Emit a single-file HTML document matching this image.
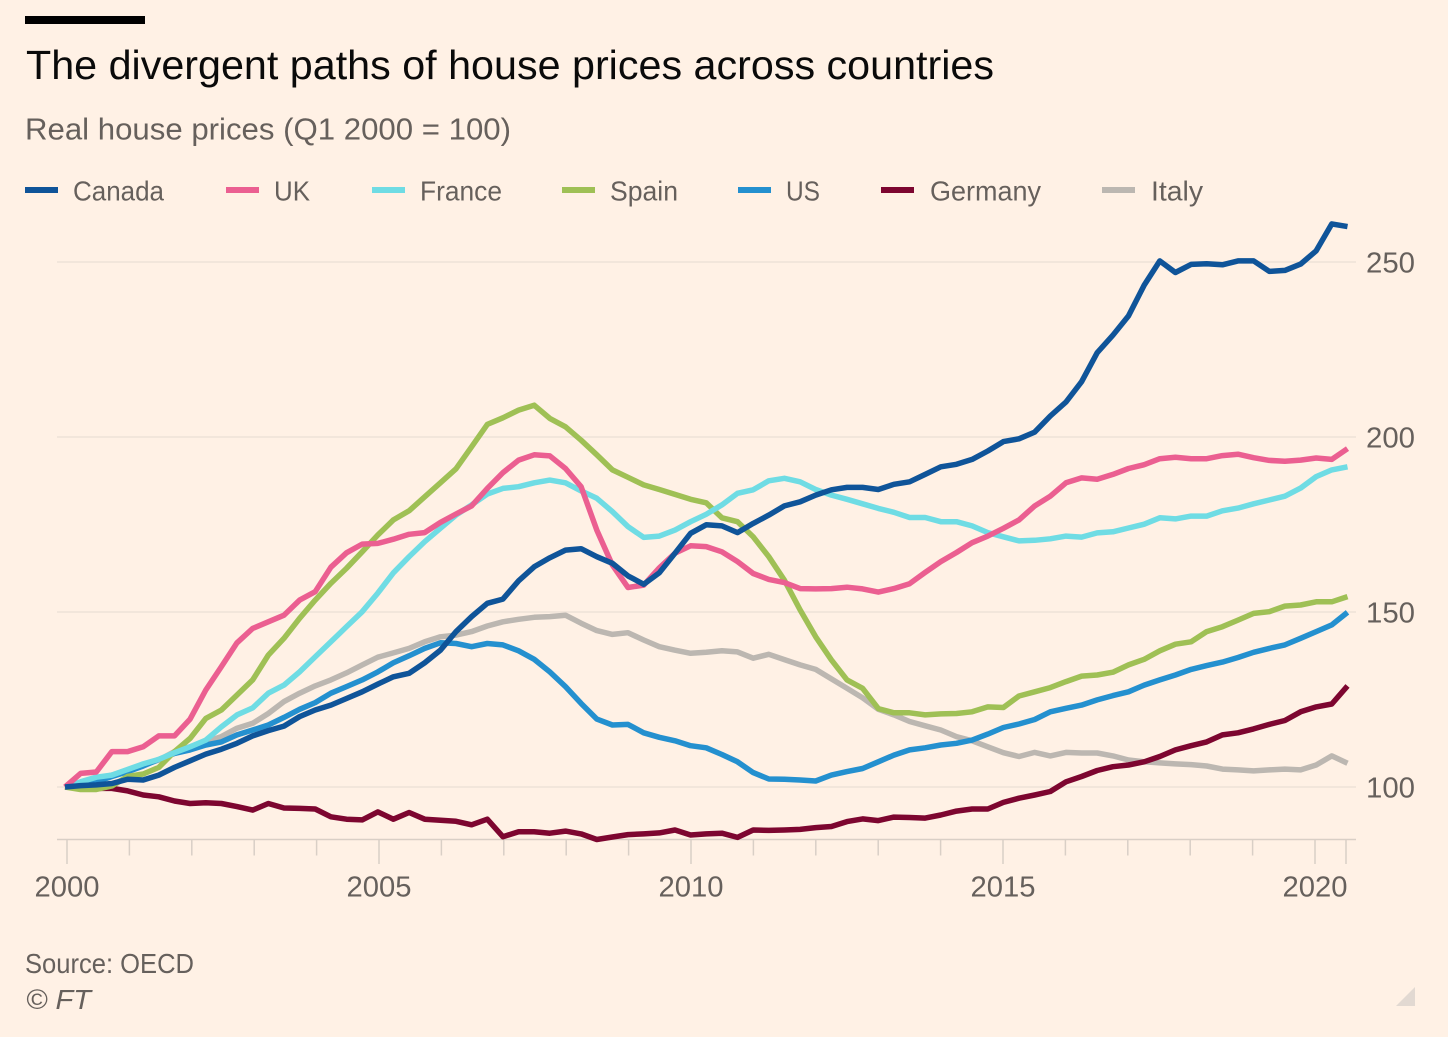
<!DOCTYPE html>
<html lang="en">
<head>
<meta charset="utf-8">
<title>The divergent paths of house prices across countries</title>
<style>
html,body{margin:0;padding:0;background:#fff1e5;}
body{width:1448px;height:1037px;overflow:hidden;}
svg{display:block;font-family:"Liberation Sans",sans-serif;}
</style>
</head>
<body>
<svg id="chart" width="1448" height="1037" viewBox="0 0 1448 1037" xmlns="http://www.w3.org/2000/svg">
  <rect x="0" y="0" width="1448" height="1037" fill="#fff1e5"/>
  <rect x="25" y="16" width="120" height="8" fill="#000"/>
  <text x="26" y="79" font-size="41" fill="#0a0a0a" textLength="968" lengthAdjust="spacingAndGlyphs">The divergent paths of house prices across countries</text>
  <text x="25" y="139.5" font-size="31" fill="#66605c" textLength="486" lengthAdjust="spacingAndGlyphs">Real house prices (Q1 2000 = 100)</text>
  <g id="legend" font-size="28" fill="#66605c"></g>
  <g id="grid"></g>
  <g id="x-axis" font-size="29" fill="#66605c"></g>
  <g id="y-axis" font-size="29" fill="#66605c"></g>
  <g id="series" fill="none" stroke-width="5.5" stroke-linejoin="round" stroke-linecap="butt"></g>
  <text x="25" y="973" font-size="28" fill="#66605c" textLength="169" lengthAdjust="spacingAndGlyphs">Source: OECD</text>
  <text x="26" y="1009" font-size="28" font-style="italic" fill="#66605c" textLength="65" lengthAdjust="spacingAndGlyphs">© FT</text>
  <polygon points="1396,1006 1415,1006 1415,987" fill="#e2d9d2"/>
</svg>
<script>
const canada = [100,100.4,100.6,101,102.2,102,103.4,105.6,107.5,109.4,110.8,112.5,114.6,116.1,117.4,120.1,122,123.4,125.3,127.2,129.4,131.5,132.5,135.5,139.1,144.4,148.7,152.5,153.7,158.9,162.9,165.5,167.7,168.1,165.8,163.9,160.3,157.9,161.2,166.8,172.5,174.9,174.6,172.7,175.3,177.7,180.3,181.5,183.4,184.9,185.6,185.6,185,186.5,187.2,189.3,191.5,192.2,193.6,196,198.7,199.5,201.4,206,210,215.8,224.1,229.1,234.6,243.4,250.3,247,249.3,249.5,249.2,250.3,250.3,247.3,247.6,249.4,253.2,260.9,260.1];
const uk = [100,103.9,104.3,110.1,110.1,111.5,114.6,114.6,119.4,127.7,134.4,141.2,145.3,147.2,149.1,153.4,155.8,162.8,166.9,169.4,169.6,170.8,172.2,172.7,175.6,178,180.3,185.3,189.8,193.4,194.9,194.6,191,185.8,173.4,163.4,157,157.7,162.6,166.8,168.9,168.7,167.2,164.4,161,159.3,158.4,156.7,156.6,156.7,157.1,156.6,155.7,156.7,158.1,161.3,164.4,167,169.8,171.7,173.9,176.3,180.3,183.1,186.9,188.3,187.9,189.3,191,192.1,193.8,194.2,193.8,193.8,194.7,195.1,194.1,193.3,193.1,193.4,194,193.6,196.7];
const france = [100,101.5,102.8,103.4,105,106.6,107.9,109.8,111.5,113.4,117.2,120.6,122.6,126.8,129.1,132.9,137.2,141.5,145.8,150.1,155.4,161.2,165.8,170.1,173.9,177.7,180.6,183.7,185.3,185.8,186.9,187.7,186.9,184.6,182.5,178.7,174.4,171.3,171.7,173.4,175.8,177.9,180.6,183.9,184.9,187.5,188.2,187.2,185,183.4,182.2,180.9,179.6,178.5,177,177,175.8,175.8,174.6,172.7,171.5,170.3,170.5,170.9,171.7,171.4,172.6,172.9,174,175.1,176.9,176.6,177.4,177.4,178.9,179.7,180.9,182,183.1,185.4,188.7,190.6,191.5];
const spain = [100,99.3,99.3,100.3,103,103.7,105.6,110.1,113.9,119.6,122,126.3,130.6,137.7,142.5,148.2,153.4,158.2,162.5,167.2,172,176.3,178.9,182.9,186.9,190.9,197.2,203.6,205.5,207.7,209.1,205.3,202.9,199.1,194.9,190.6,188.5,186.3,185,183.6,182.2,181.2,176.9,175.8,171.5,165.8,159.1,150.6,142.9,136.3,130.6,128.2,122.4,121.2,121.2,120.6,120.9,121,121.5,122.9,122.7,126,127.2,128.4,130.1,131.7,132,132.8,134.9,136.5,138.9,140.8,141.5,144.4,145.8,147.7,149.6,150.1,151.7,152,152.9,152.9,154.4];
const us = [100,100.3,101.5,103,104.4,106,107.9,109.6,110.6,112,112.9,114.9,116.3,117.7,119.9,122.2,124.1,126.8,128.7,130.6,132.9,135.5,137.5,139.6,141.2,141,140.1,141,140.6,138.9,136.5,132.9,128.7,123.9,119.4,117.7,117.9,115.5,114.2,113.2,111.8,111.2,109.3,107.2,104.1,102.3,102.2,102,101.7,103.4,104.4,105.3,107.2,109.1,110.6,111.2,112,112.5,113.4,115.1,117,118,119.3,121.5,122.5,123.4,124.9,126.1,127.2,129.1,130.6,132,133.6,134.7,135.7,137,138.5,139.6,140.6,142.5,144.4,146.3,149.9];
const germany = [100,99.9,99.6,99.6,98.9,97.7,97.2,96,95.3,95.5,95.3,94.4,93.4,95.3,94,93.9,93.7,91.5,90.8,90.6,92.9,90.8,92.7,90.8,90.5,90.2,89.2,90.8,85.8,87.2,87.2,86.8,87.4,86.6,85,85.7,86.4,86.6,86.9,87.7,86.3,86.6,86.8,85.6,87.7,87.6,87.7,87.9,88.4,88.7,90.1,90.9,90.4,91.4,91.3,91.1,92,93.1,93.7,93.7,95.6,96.8,97.7,98.7,101.5,103,104.7,105.8,106.3,107.2,108.7,110.6,111.8,112.9,114.9,115.5,116.6,117.9,119,121.5,122.9,123.7,128.9];
const italy = [100,101,102.5,103.4,104.9,106.3,107.7,110.1,111.5,112.9,114.4,116.8,118.2,121,124.4,126.8,128.9,130.6,132.6,134.9,137.1,138.3,139.6,141.5,142.9,143.4,144.4,146,147.2,147.9,148.5,148.7,149.1,146.8,144.7,143.6,144.1,142,140.1,139.1,138.2,138.5,138.9,138.6,136.8,137.9,136.4,134.9,133.6,130.9,128.2,125.5,122.2,120.6,118.7,117.5,116.3,114.4,113.2,111.5,109.8,108.7,109.9,108.9,109.9,109.7,109.7,108.9,107.7,107.2,106.9,106.6,106.4,106,105.1,104.9,104.6,104.9,105.1,104.9,106.3,108.9,106.8];

const yTickValues = [100, 150, 200, 250];
const xYearLabels = [2000, 2005, 2010, 2015, 2020];
const xYearTicks = [2000,2001,2002,2003,2004,2005,2006,2007,2008,2009,2010,2011,2012,2013,2014,2015,2016,2017,2018,2019,2020];
const seriesNames = ['Canada','UK','France','Spain','US','Germany','Italy'];

const NS = 'http://www.w3.org/2000/svg';
const yScale = function (v) { return 787 - (v - 100) * 3.5; };
const xQuarter = function (i) { return 65 + 15.64 * i; };
const xYear = function (y) { return 67 + 62.4 * (y - 2000); };

const seriesValues = [canada, uk, france, spain, us, germany, italy];
const seriesColors = ['#0f5499','#eb5f91','#6fdce4','#9fc055','#2490cf','#7d0630','#bcb7b1'];
const legendSwatchX = [25,226,372,562,738,881,1102];
const legendTextX = [73,274,420,610,786,930,1151];
const legendTextW = [91,36,82,68,34,111,52];

function make(tag, parent, attrs) {
  const el = document.createElementNS(NS, tag);
  Object.keys(attrs).forEach(function (k) { el.setAttribute(k, attrs[k]); });
  parent.appendChild(el);
  return el;
}

const gridG = document.getElementById('grid');
const yG = document.getElementById('y-axis');
yTickValues.forEach(function (v) {
  const line = make('line', gridG, {x1: 57, x2: 1356, y1: yScale(v), y2: yScale(v), stroke: '#eee2d8', 'stroke-width': 1.5});
  
  
  const label = make('text', yG, {x: 1366, y: yScale(v) + 10.5, textLength: 49, lengthAdjust: 'spacingAndGlyphs'});
  
  
  label.textContent = v;
});

const xG = document.getElementById('x-axis');
const axisLine = make('line', xG, {x1: 57, x2: 1356, y1: 839.5, y2: 839.5, stroke: '#d9cfc6', 'stroke-width': 1.5});


xYearTicks.forEach(function (y) {
  const major = xYearLabels.indexOf(y) >= 0;
  const tick = make('line', xG, {x1: xYear(y), x2: xYear(y), y1: 839.5, y2: major ? 864 : 855.5, stroke: '#d9cfc6', 'stroke-width': 1.5});
  
  
});
const endTick = make('line', xG, {x1: 1346, x2: 1346, y1: 839.5, y2: 864, stroke: '#d9cfc6', 'stroke-width': 1.5});


xYearLabels.forEach(function (y) {
  const label = make('text', xG, {x: xYear(y), y: 896.5, 'text-anchor': 'middle', textLength: 65, lengthAdjust: 'spacingAndGlyphs'});
  
  
  label.textContent = y;
});

const seriesG = document.getElementById('series');
for (let s = seriesNames.length - 1; s >= 0; s--) {
  const pts = seriesValues[s].map(function (v, i) { return xQuarter(i).toFixed(1) + ',' + yScale(v).toFixed(1); }).join(' ');
  const line = make('polyline', seriesG, {points: pts, stroke: seriesColors[s]});
  
  
}

const legendG = document.getElementById('legend');
seriesNames.forEach(function (name, s) {
  const swatch = make('rect', legendG, {x: legendSwatchX[s], y: 187, width: 33, height: 6, fill: seriesColors[s]});
  
  
  const label = make('text', legendG, {x: legendTextX[s], y: 200.5, textLength: legendTextW[s], lengthAdjust: 'spacingAndGlyphs'});
  
  
  label.textContent = name;
});
</script>
</body>
</html>
